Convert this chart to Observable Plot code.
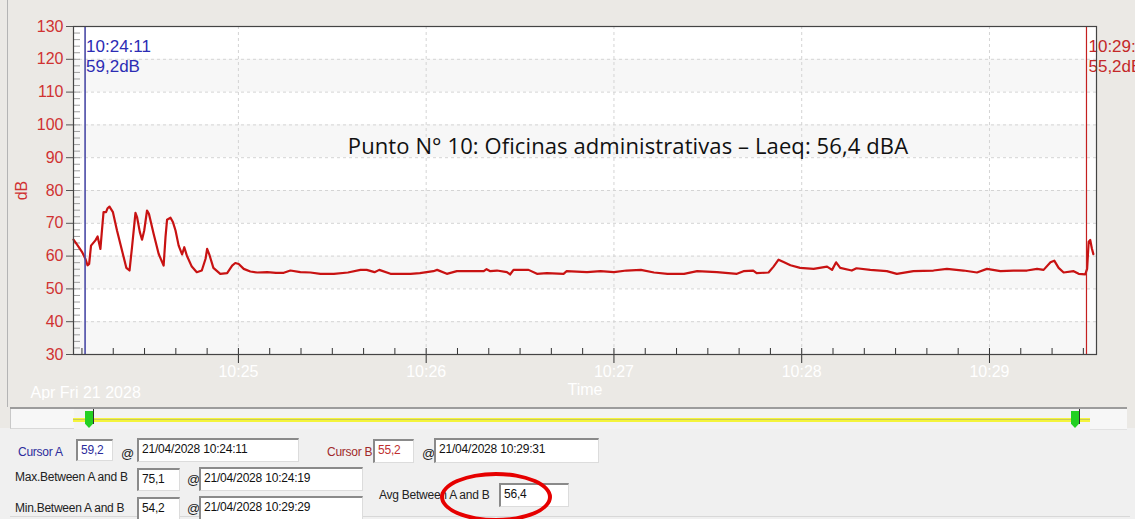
<!DOCTYPE html>
<html><head><meta charset="utf-8">
<script src="https://cdn.jsdelivr.net/npm/d3@7"></script>
<script src="https://cdn.jsdelivr.net/npm/@observablehq/plot@0.6"></script>
<style>
html,body{margin:0;padding:0;}
body{width:1135px;height:519px;overflow:hidden;background:#ebe9e5;position:relative;font-family:"Liberation Sans",Arial,sans-serif;}
#chart{position:absolute;left:0;top:0;}
.abs{position:absolute;}
.lbl{position:absolute;font-size:12px;letter-spacing:-0.25px;color:#222;white-space:nowrap;line-height:14px;}
.box{position:absolute;background:#fff;border-style:solid;border-width:2px 1px 1px 2px;border-color:#8a8a8a #dcdcdc #dcdcdc #8a8a8a;box-sizing:border-box;font-size:12px;letter-spacing:-0.2px;line-height:16px;padding:1px 0 0 3px;color:#111;white-space:nowrap;overflow:hidden;}
</style>
</head><body>
<div id="chart"></div>
<div id="panel"></div>
<script>
// ---------- data ----------
const sessionDay = [2028, 4, 21];          // 21/04/2028
const startClock = "10:24:00";
// seconds after 10:24:00 and measured level (dB)
const sampleSeconds = [7.3,8.5,10.0,11.1,11.8,12.3,12.9,14.3,15.0,15.9,16.3,16.9,17.7,18.2,18.8,19.9,21.2,22.8,24.2,25.2,26.0,27.1,27.6,28.5,29.2,29.9,30.8,31.4,32.9,34.5,36.1,36.7,37.2,38.3,39.1,39.9,40.9,42.0,42.7,43.5,45.1,46.7,48.3,49.5,50.0,50.8,52.0,54.2,56.4,58.0,59.0,60.1,61.7,63.8,66,69.2,72,74.5,76.6,79.8,83,86.2,90.5,95,99.0,101,103.5,105,108.6,111.8,115,118,122.3,123.5,126.6,129.8,134,138.4,139.3,140.5,142.6,145.8,146.8,147.9,152.7,155.4,158.6,163.9,164.9,171.4,175.7,180,184,188.6,192.8,197.1,202.4,206.6,212.9,219.3,221.4,224.5,225.6,229.4,231,232.6,234.2,236.4,239.5,243.8,248.1,249.7,251,252.3,256,257.5,261.9,267.2,270.4,275.7,282.1,286.4,291.7,296,299.2,303.5,307.7,312,315.2,317.3,319.5,320.7,322.1,323.7,326.9,328.5,330.6,331.2,331.7,332.2,332.7,333.2];
const levelsDb = [65.0,63.4,61.3,59.2,57.2,57.6,63.2,64.8,66.0,62.2,66.8,73.4,73.4,74.6,75.1,73.4,67.8,61.7,56.4,55.6,62.7,73.2,71.9,67.3,65.0,67.8,73.9,72.9,66.8,60.7,57.1,65.8,71.1,71.7,70.3,67.8,63.2,60.5,62.7,60.2,56.8,55.1,55.6,59.2,62.2,60.2,56.4,54.6,54.8,57.1,57.9,57.6,56.1,55.3,55.0,55.1,54.9,54.9,55.6,55.1,55.0,54.6,54.6,55.0,55.8,55.8,55.1,55.8,54.6,54.6,54.6,54.8,55.4,55.8,54.6,55.4,55.4,55.4,56.0,55.4,55.6,55.1,54.4,55.8,55.8,54.6,54.8,54.6,55.4,55.1,55.4,55.1,55.6,55.8,55.0,54.6,54.6,55.4,55.1,54.6,55.4,55.6,54.8,55.0,56.8,58.9,58.2,57.2,56.4,56.1,56.8,55.8,58.1,56.4,55.6,56.3,55.8,55.4,54.6,55.4,55.6,56.1,55.6,55.0,56.1,55.4,55.6,55.6,56.1,55.8,58.1,58.6,56.4,55.0,55.4,54.6,54.4,56.1,64.4,64.9,62.4,60.6];
const viewSeconds = [7.3, 334.2];
const yMajorTicks = [30,40,50,60,70,80,90,100,110,120,130];
const yLabel = "dB";
const xLabel = "Time";
const titleText = "Punto N° 10: Oficinas administrativas – Laeq: 56,4 dBA";
const cursorNames = ["Cursor A", "Cursor B"];
const cursorClocks = ["10:24:11", "10:29:31"];
const cursorLevels = [59.2, 55.2];
const statNames = ["Max.Between A and B", "Min.Between A and B"];
const statLevels = [75.1, 54.2];
const statClocks = ["10:24:19", "10:29:29"];
const avgName = "Avg Between A and B";
const avgLevel = 56.4;

// ---------- helpers ----------
const dateAt = clock => { const [h,m,s] = clock.split(":").map(Number); return new Date(Date.UTC(sessionDay[0], sessionDay[1]-1, sessionDay[2], h, m, s)); };
const base = dateAt(startClock);
const atSec = s => new Date(base.getTime() + s*1000);
const dec = v => v.toFixed(1).replace(".", ",");
const pad = n => String(n).padStart(2, "0");
const dayStr = `${pad(sessionDay[2])}/${pad(sessionDay[1])}/${sessionDay[0]}`;

const rows = sampleSeconds.map((s, i) => ({time: atSec(s), level: levelsDb[i]}));
const xDomain = viewSeconds.map(atSec);
const minuteTicks = d3.utcMinute.range(xDomain[0], xDomain[1]);
const tenSecTicks = d3.utcSecond.every(10).range(xDomain[0], xDomain[1]);
const yMinorTicks = d3.range(yMajorTicks[0], yMajorTicks[yMajorTicks.length-1] + 1, 2);
const bandLows = yMajorTicks.filter((d, i) => i % 2 === 0 && i < yMajorTicks.length - 1);
const cursors = cursorNames.map((n, i) => ({name: n, time: dateAt(cursorClocks[i]), level: cursorLevels[i], text: `${cursorClocks[i]}\n${dec(cursorLevels[i])}dB`}));

const cursorStroke = ["#4a4aa6", "#c42020"];
const cursorText = ["#2c2cb4", "#c42828"];
const axisRed = "#d03232";

const chart = Plot.plot({
  width: 1135, height: 400,
  marginLeft: 73, marginRight: 39, marginTop: 26, marginBottom: 46,
  style: {background: "transparent", fontFamily: "'Liberation Sans', Arial, sans-serif", fontSize: "16px"},
  x: {type: "utc", domain: xDomain},
  y: {domain: [yMajorTicks[0], yMajorTicks[yMajorTicks.length-1]]},
  marks: [
    Plot.frame({fill: "white", stroke: null}),
    Plot.rect(bandLows, {y1: d => d, y2: d => d + 10, fill: "#f7f7f7"}),
    Plot.gridY(yMajorTicks, {stroke: "#d4d4d4", strokeOpacity: 1, strokeDasharray: "3,3"}),
    Plot.gridX(minuteTicks, {stroke: "#d4d4d4", strokeOpacity: 1, strokeDasharray: "3,3"}),
    Plot.axisY(yMinorTicks, {anchor: "left", tickSize: -7, stroke: "#a0a0a0", tickFormat: () => "", label: null}),
    Plot.line(rows, {x: "time", y: "level", stroke: "#c81212", strokeWidth: 2.2}),
    Plot.ruleX([cursors[0]], {x: "time", stroke: cursorStroke[0], strokeWidth: 1.6}),
    Plot.ruleX([cursors[1]], {x: "time", stroke: cursorStroke[1], strokeWidth: 1.2}),
    Plot.text([cursors[0]], {x: "time", text: "text", frameAnchor: "top", lineAnchor: "top", textAnchor: "start", dx: 1, dy: 11, fontSize: 17, lineHeight: 1.18, fill: cursorText[0]}),
    Plot.text([cursors[1]], {x: "time", text: "text", frameAnchor: "top", lineAnchor: "top", textAnchor: "start", dx: 2, dy: 11, fontSize: 17, lineHeight: 1.18, fill: cursorText[1]}),
    Plot.text([titleText], {text: d => d, frameAnchor: "top", dx: 43, dy: 120, lineAnchor: "middle", fontSize: 22, fontFamily: "'Open Sans', Lato, sans-serif", fill: "#111"}),
    Plot.axisY(yMajorTicks, {anchor: "left", tickSize: 7, tickPadding: 3, stroke: "#555", fill: axisRed, fontSize: 16, tickFormat: d => d, label: yLabel, labelAnchor: "center", labelOffset: 58, labelArrow: "none"}),
    Plot.axisX(tenSecTicks, {anchor: "bottom", tickSize: -6, stroke: "#333", tickFormat: () => "", label: null}),
    Plot.axisX(minuteTicks, {anchor: "bottom", tickSize: 9, tickPadding: 2, stroke: "#333", fill: "white", fontSize: 16, tickFormat: d3.utcFormat("%H:%M"), label: xLabel, labelAnchor: "center", labelOffset: 40, labelArrow: "none"}),
    Plot.text([base], {text: d => d3.utcFormat("%b %a %d %Y")(d), frameAnchor: "bottom-left", textAnchor: "start", lineAnchor: "middle", dx: -43, dy: 38, fontSize: 16, fill: "white"}),
    Plot.frame({stroke: "#444", strokeWidth: 1.2})
  ]
});
d3.select(chart).selectAll("text").filter(function() { return this.textContent === titleText; }).attr("letter-spacing", "0.1px");
document.getElementById("chart").appendChild(chart);

// ---------- bottom control panel (HTML) ----------
const panel = document.getElementById("panel");
function el(cls, css, text, color) {
  const d = document.createElement("div");
  d.className = cls; d.style.cssText = css;
  if (text != null) d.textContent = text;
  if (color) d.style.color = color;
  panel.appendChild(d); return d;
}
// window edge + panel backgrounds
el("abs", "left:7px;top:0;width:1px;height:407px;background:#b4b4b4;");
el("abs", "left:0;top:428px;width:1135px;height:91px;background:#f0f0f0;");
el("abs", "left:10px;top:407px;width:1117px;height:22px;background:#f3f3f3;border-top:2px solid #9c9c9c;box-sizing:border-box;");
el("abs", "left:10px;top:409px;width:63px;height:19px;background:#f7f7f7;border-left:1px solid #c8c8c8;border-bottom:1px solid #d8d8d8;");
el("abs", "left:1090px;top:409px;width:37px;height:20px;background:#f7f7f7;border-bottom:1px solid #e2e2e2;");
el("abs", "left:10px;top:516px;width:1120px;height:1px;background:#d8d8d8;");
// slider
el("abs", "left:73px;top:418px;width:1017px;height:4px;background:#f4f43c;");
el("abs", "left:73px;top:419px;width:1017px;height:1px;background:#c9c95a;");
for (const x of [85, 1071]) {
  el("abs", `left:${x}px;top:411px;width:8px;height:17px;background:#22d022;clip-path:polygon(0 0,100% 0,100% 75%,50% 100%,0 75%);`);
  el("abs", `left:${x+8}px;top:409px;width:1px;height:15px;background:#303030;`);
}
// fields
const colA = "#2c2c9c", colB = "#a02a2a";
el("lbl", "left:18px;top:445px;", cursorNames[0], colA);
el("box", "left:76px;top:439px;width:37px;height:22px;", dec(cursorLevels[0]), colA);
el("lbl", "left:121px;top:447px;font-size:13px;", "@");
el("box", "left:137px;top:438px;width:162px;height:24px;", `${dayStr} ${cursorClocks[0]}`);
el("lbl", "left:327px;top:445px;", cursorNames[1], colB);
el("box", "left:373px;top:439px;width:41px;height:24px;", dec(cursorLevels[1]), "#c03030");
el("lbl", "left:422px;top:447px;font-size:13px;", "@");
el("box", "left:434px;top:438px;width:165px;height:25px;", `${dayStr} ${cursorClocks[1]}`);
statNames.forEach((n, i) => {
  const t = i === 0 ? 467 : 496;
  el("lbl", `left:15px;top:${t + 3 + i * 2}px;`, n);
  el("box", `left:137px;top:${t + 1}px;width:43px;height:23px;`, dec(statLevels[i]));
  el("lbl", `left:187px;top:${t + 6}px;font-size:13px;`, "@");
  el("box", `left:199px;top:${t}px;width:164px;height:24px;`, `${dayStr} ${statClocks[i]}`);
});
el("lbl", "left:379px;top:488px;", avgName);
el("box", "left:499px;top:483px;width:70px;height:24px;", dec(avgLevel));
// highlight ellipse
el("abs", "left:440px;top:472px;width:112px;height:50px;border:4px solid #e60000;border-radius:50%;box-sizing:border-box;");
</script>
</body></html>
